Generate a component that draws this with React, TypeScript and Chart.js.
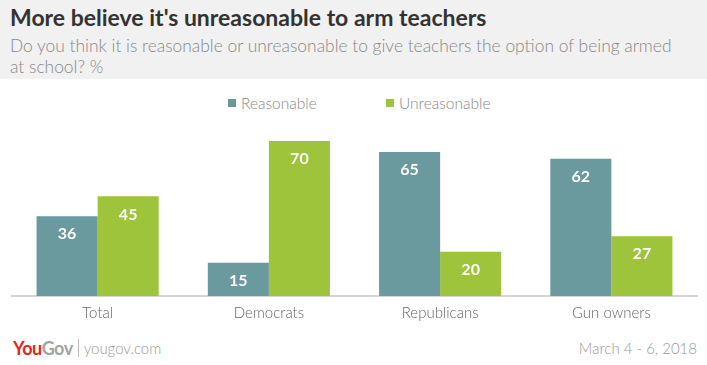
import React, { useEffect, useRef } from "react";
import { Chart, registerables } from "chart.js";

Chart.register(...registerables);

const categories = ["Total", "Democrats", "Republicans", "Gun owners"];
const seriesNames = ["Reasonable", "Unreasonable"];
const reasonable = [36, 15, 65, 62];
const unreasonable = [45, 70, 20, 27];

const TEAL = "#6a999e";
const GREEN = "#9dc43a";
const FONT = "Lato, 'Open Sans', sans-serif";

const valueLabels = {
  id: "valueLabels",
  afterDatasetsDraw(chart: any) {
    const ctx = chart.ctx;
    ctx.save();
    ctx.font = "bold 16px Lato, 'Open Sans', sans-serif";
    ctx.fillStyle = "#ffffff";
    ctx.textAlign = "center";
    ctx.textBaseline = "middle";
    chart.data.datasets.forEach((ds: any, i: number) => {
      chart.getDatasetMeta(i).data.forEach((bar: any, j: number) => {
        ctx.fillText(String(ds.data[j]), bar.x, bar.y + 18);
      });
    });
    ctx.restore();
  },
};

export default function App() {
  const ref = useRef<HTMLCanvasElement>(null);
  useEffect(() => {
    if (!ref.current) return;
    const chart = new Chart(ref.current, {
      type: "bar",
      data: {
        labels: categories,
        datasets: [
          { label: seriesNames[0], data: reasonable, backgroundColor: TEAL, borderWidth: 0 },
          { label: seriesNames[1], data: unreasonable, backgroundColor: GREEN, borderWidth: 0 },
        ],
      },
      options: {
        animation: false,
        responsive: true,
        maintainAspectRatio: false,
        layout: { padding: { left: 12, right: 10, top: 0, bottom: 0 } },
        datasets: { bar: { categoryPercentage: 0.713, barPercentage: 1 } },
        plugins: { legend: { display: false }, tooltip: { enabled: false } },
        scales: {
          y: { display: false, min: 0, max: 84 },
          x: {
            grid: { display: false, drawTicks: false },
            border: { display: true, color: "#d5d5d5", width: 2 },
            ticks: { color: "#666", font: { family: FONT, size: 15, weight: "300" }, padding: 8 },
          },
        },
      } as any,
      plugins: [valueLabels],
    });
    return () => chart.destroy();
  }, []);

  const legendItem = (left: number, color: string, text: string) => (
    <div style={{ position: "absolute", left, top: 92, height: 22, display: "flex", alignItems: "center" }}>
      <div style={{ width: 8, height: 8, background: color, marginRight: 5 }} />
      <span style={{ fontSize: 15.5, color: "#888", fontFamily: FONT, fontWeight: 300 }}>{text}</span>
    </div>
  );

  return (
    <div style={{ position: "fixed", left: 0, top: 0, width: 707, height: 365, background: "#fff", overflow: "hidden", fontFamily: FONT }}>
      <div style={{ position: "absolute", left: 0, top: 0, width: 707, height: 79, background: "#f1f1f1" }} />
      <div style={{ position: "absolute", left: 10, top: 3, fontSize: 23, fontWeight: 700, color: "#333", whiteSpace: "nowrap" }}>
        More believe it's unreasonable to arm teachers
      </div>
      <div style={{ position: "absolute", left: 10, top: 35, fontSize: 17.4, fontWeight: 300, color: "#888", lineHeight: "21px", whiteSpace: "nowrap" }}>
        Do you think it is reasonable or unreasonable to give teachers the option of being armed
        <br />
        at school? %
      </div>
      {legendItem(228, TEAL, seriesNames[0])}
      {legendItem(386, GREEN, seriesNames[1])}
      <div style={{ position: "absolute", left: 0, top: 110, width: 707, height: 220 }}>
        <canvas ref={ref} />
      </div>
      <div style={{ position: "absolute", left: 13, top: 337, display: "flex", alignItems: "center", height: 22 }}>
        <span style={{ fontSize: 18, fontWeight: 700, color: "#e0271c", letterSpacing: -0.5 }}>You</span>
        <span style={{ fontSize: 18, fontWeight: 700, color: "#a3a3a3", letterSpacing: -0.5 }}>Gov</span>
        <div style={{ width: 1, height: 18, background: "#bbb", marginLeft: 5, marginRight: 5 }} />
        <span style={{ fontSize: 15, fontWeight: 300, color: "#999" }}>yougov.com</span>
      </div>
      <div style={{ position: "absolute", right: 10, top: 337, height: 22, display: "flex", alignItems: "center", fontSize: 15, fontWeight: 300, color: "#999" }}>
        March 4 - 6, 2018
      </div>
    </div>
  );
}
